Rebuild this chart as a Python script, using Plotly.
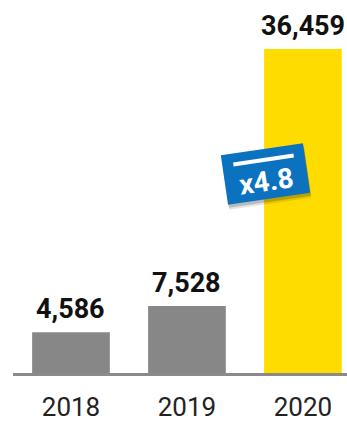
import plotly.graph_objects as go

years = ["2018", "2019", "2020"]
values = [4586, 7528, 36459]
labels = ["4,586", "7,528", "36,459"]
bar_colors = ["#878787", "#878787", "#FFDC00"]
badge_text = "x4.8"

fig = go.Figure()
fig.add_trace(go.Bar(
    x=years, y=values, marker=dict(color=bar_colors, line=dict(width=0)),
    width=0.67, hoverinfo="skip", showlegend=False,
))

for i, (v, lab) in enumerate(zip(values, labels)):
    fig.add_annotation(x=i, y=v, xref="x", yref="y", text="<b>" + lab + "</b>",
                       showarrow=False, xanchor="center", yanchor="bottom", yshift=5,
                       font=dict(family="Roboto", size=27, color="#111111"))

# badge
bx, by = 0.756, 0.5335
ang = -8.3
for dx, dy, col in [(1, -5, "rgba(0,0,0,0.10)"), (1, -3, "rgba(0,0,0,0.18)")]:
    fig.add_annotation(x=bx, y=by, xref="paper", yref="paper", text=" ", showarrow=False,
                       xanchor="center", yanchor="middle", width=83, height=50,
                       borderpad=0, borderwidth=0, bgcolor=col, textangle=ang,
                       xshift=dx, yshift=dy, font=dict(size=1))
fig.add_annotation(x=bx, y=by, xref="paper", yref="paper", text=" ", showarrow=False,
                   xanchor="center", yanchor="middle", width=83, height=50,
                   borderpad=0, borderwidth=0, bgcolor="#0B72BF", textangle=ang,
                   font=dict(size=1))
fig.add_annotation(x=bx, y=by, xref="paper", yref="paper", text=" ", showarrow=False,
                   xanchor="center", yanchor="middle", width=61, height=3.5,
                   borderpad=0, borderwidth=0, bgcolor="#FFFFFF", textangle=ang,
                   xshift=-2, yshift=14, font=dict(size=1))
fig.add_annotation(x=bx, y=by, xref="paper", yref="paper", text="<b>" + badge_text + "</b>",
                   showarrow=False, xanchor="center", yanchor="middle", textangle=ang,
                   xshift=1, yshift=-7, font=dict(family="Roboto", size=28, color="#FFFFFF"))

fig.update_layout(
    width=347, height=422,
    margin=dict(l=13, r=0, t=0, b=49, pad=0),
    paper_bgcolor="white", plot_bgcolor="white",
    bargap=0.33,
    xaxis=dict(type="category", range=[-0.5, 2.38], showline=True, linecolor="#8A8A8A",
               linewidth=2.5, ticks="", ticklabelstandoff=9, showgrid=False, zeroline=False,
               automargin=False,
               tickfont=dict(family="Roboto", size=26, color="#222222"), fixedrange=True),
    yaxis=dict(range=[0, 41972], showticklabels=False, showline=False, ticks="",
               showgrid=False, zeroline=False, fixedrange=True, automargin=False),
)

fig.write_html("out.html", config={"displayModeBar": False})
